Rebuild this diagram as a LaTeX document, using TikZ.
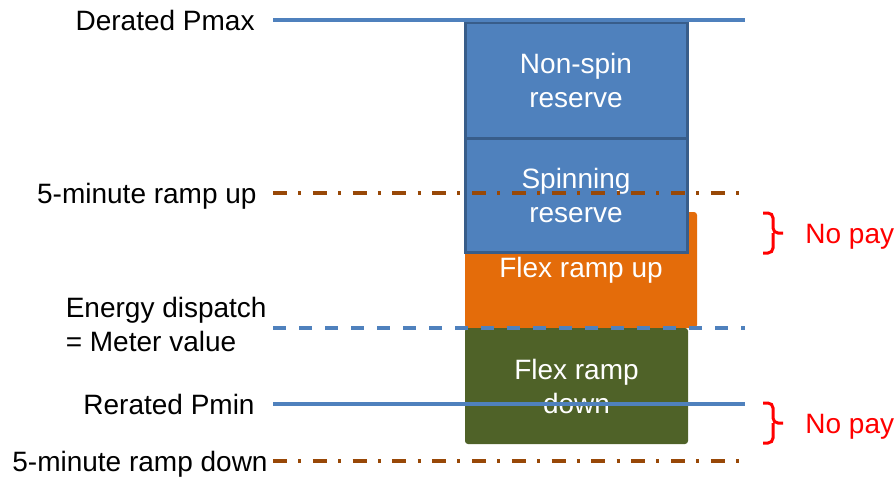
\documentclass[tikz,border=0pt]{standalone}
\usepackage{fontspec}
\setmainfont{Liberation Sans}
\usetikzlibrary{positioning}
\definecolor{lineblue}{HTML}{4F81BD}
\definecolor{boxborder}{HTML}{385D8A}
\definecolor{rampbrown}{HTML}{984807}
\definecolor{flexorange}{HTML}{E46C0A}
\definecolor{flexgreen}{HTML}{4F6228}

\begin{document}
\begin{tikzpicture}[x=0.5pt, y=-0.5pt,
	every node/.style={font=\fontsize{14pt}{17pt}\selectfont},
	resv/.style={rectangle, fill=lineblue, draw=boxborder, line width=1.5pt, text=white, align=center, minimum width=111pt, outer sep=0pt, inner sep=0pt},
	flex/.style={rectangle, rounded corners=1.5pt, text=white, align=center, minimum height=58pt, outer sep=0pt, inner sep=0pt, anchor=north west},
	lbl/.style={inner sep=0pt, text height=10pt, text depth=0pt},
	solidline/.style={lineblue, line width=1.6pt},
	dashline/.style={lineblue, line width=1.6pt, dash pattern=on 6.5pt off 6.5pt},
	rampline/.style={rampbrown, line width=1.6pt, dash pattern=on 7pt off 5.6pt on 1.5pt off 5.8pt},
	nopay/.style={red, line width=1.5pt, rounded corners=2.5pt},
	paytxt/.style={text=red, inner sep=0pt, text height=10pt, text depth=0pt, anchor=west}
	]

	\useasboundingbox (0,0) rectangle (894,477);

		\node (flexup) [flex, fill=flexorange, minimum width=116pt] at (465,212) {Flex ramp up};
		\node (flexdown) [flex, fill=flexgreen, minimum width=111.5pt] at (465,328) {Flex ramp\\down};
		\node (nonspin) [resv, minimum height=58pt, anchor=north west] at (465,22) {Non-spin\\reserve};
			\node (spin) [resv, minimum height=57pt, below=0pt of nonspin] {Spinning\\reserve};

		\coordinate (pmaxL) at (273,20);
		\coordinate (pmaxR) at (745,20);
		\coordinate (upL) at (273,193);
		\coordinate (upR) at (740,193);
		\coordinate (dispL) at (273,328);
		\coordinate (dispR) at (745,328);
		\coordinate (pminL) at (273,404);
		\coordinate (pminR) at (745,404);
		\coordinate (downL) at (273,461);
		\coordinate (downR) at (740,461);

		\node (pmax) [lbl, left=9pt of pmaxL] {Derated Pmax};
		\node (rampup) [lbl, left=8pt of upL] {5-minute ramp up};
		\node (disp) [align=left, inner sep=0pt, anchor=east] at (267,324.5) {Energy dispatch\\= Meter value};
		\node (pmin) [lbl, left=9pt of pminL] {Rerated Pmin};
		\node (rampdown) [lbl, left=2.5pt of downL] {5-minute ramp down};

	\draw [solidline] (pmaxL) -- (pmaxR);
	\draw [rampline] (upL) -- (upR);
	\draw [dashline] (dispL) -- (dispR);
	\draw [solidline] (pminL) -- (pminR);
	\draw [rampline] (downL) -- (downR);

		\coordinate (pay1a) at (763,213);
		\coordinate (pay1m) at (773,233);
		\coordinate (pay1tip) at (783,233);
		\coordinate (pay1b) at (763,253);
		\coordinate (pay2a) at (763,403);
		\coordinate (pay2m) at (773,423);
		\coordinate (pay2tip) at (783,423);
		\coordinate (pay2b) at (763,443);

	\draw [nopay] (pay1a) -| (pay1m) -- (pay1tip) (pay1m) |- (pay1b);
	\draw [nopay] (pay2a) -| (pay2m) -- (pay2tip) (pay2m) |- (pay2b);

		\node (pay1) [paytxt] at (805,233) {No pay};
		\node (pay2) [paytxt] at (805,423) {No pay};

\end{tikzpicture}
\end{document}
